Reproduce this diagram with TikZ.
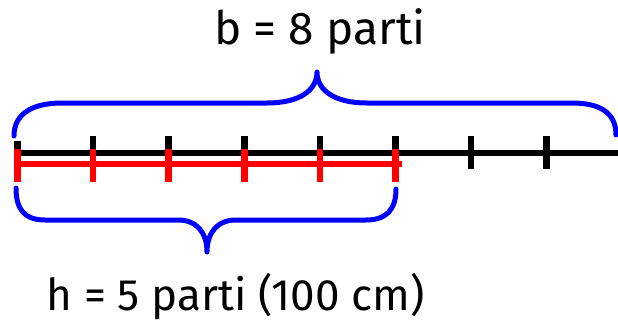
\documentclass[tikz,border=0pt]{standalone}
\usepackage{fontspec}
\setmainfont{Fira Sans}
\begin{document}
\begin{tikzpicture}[x=1pt,y=-1pt,
  brace/.style={draw=blue,line width=5pt,line cap=round,line join=round},
  axis/.style={draw=black,line width=6pt},
  blacktick/.style={draw=black,line width=6.5pt},
  redtick/.style={draw=red,line width=6.5pt},
  redbar/.style={draw=red,line width=6pt},
  lbl/.style={anchor=base,inner sep=0pt,font=\fontsize{46}{50}\selectfont}]
\useasboundingbox (0,0) rectangle (618,321);
% axis
\coordinate (a0) at (17,152.5);
\coordinate (a1) at (618,152.5);
\draw[axis] (a0) -- (a1);
% black ticks
\draw[blacktick] (17.5,141) -- (17.5,169);
\foreach \i in {1,...,7}{
  \draw[blacktick] ({17.5+75.6*\i},136) -- ({17.5+75.6*\i},169);
}
% red bar
\coordinate (r0) at (14,164);
\coordinate (r1) at (402,164);
\draw[redbar] (r0) -- (r1);
\foreach \i in {0,...,5}{
  \draw[redtick] ({17.5+75.6*\i},149) -- ({17.5+75.6*\i},182);
}
% top brace
\coordinate (tl) at (14,136);
\coordinate (tt) at (317,72);
\coordinate (tr) at (616,135);
\draw[brace] (tl) .. controls (14,112) and (35,103) .. (62,103)
  -- (267,103) .. controls (300,103) and (317,90) .. (tt)
  .. controls (317,90) and (334,103) .. (367,103)
  -- (572,103) .. controls (599,103) and (616,112) .. (tr);
% bottom brace
\coordinate (bl) at (16,188);
\coordinate (bt) at (207,252);
\coordinate (br) at (396,189);
\draw[brace] (bl) .. controls (16,210) and (25,220) .. (45,220)
  -- (178,220) .. controls (197,220) and (207,233) .. (bt)
  .. controls (207,233) and (217,220) .. (236,220)
  -- (366,220) .. controls (386,220) and (396,210) .. (br);
% labels
\node[lbl] (top) at (320,45) {b = 8 parti};
\node[lbl,font=\fontsize{44}{48}\selectfont] (bot) at (235.5,310) {h = 5 parti (100 cm)};
\end{tikzpicture}
\end{document}
